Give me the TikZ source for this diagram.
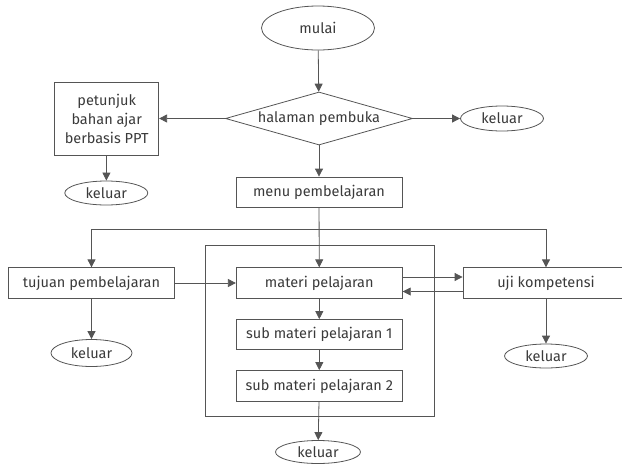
\documentclass[tikz,border=0pt]{standalone}
\usepackage{fontspec}
\setmainfont{Fira Sans}
\usetikzlibrary{shapes.geometric,arrows.meta}
\definecolor{linegray}{HTML}{555555}
\definecolor{textgray}{HTML}{3A3A3A}
\begin{document}
\begin{tikzpicture}[x=1pt, y=-1pt, line width=0.8pt,
  every node/.style={font=\fontsize{14.5}{19}\selectfont, text=textgray},
  box/.style={draw=linegray, inner sep=0pt, minimum width=166pt, minimum height=30pt},
  term/.style={draw=linegray, ellipse, inner sep=0pt, minimum width=83pt, minimum height=25pt},
  flow/.style={draw=linegray, -{Triangle[length=8pt, width=8pt]}}]
  \useasboundingbox (0,0) rectangle (622,464);
  \node[term, minimum width=113pt, minimum height=44pt] (start) at (318,28) {mulai};
  \node[draw=linegray, diamond, aspect=3.5, inner sep=0pt, minimum width=187pt, minimum height=53pt] (open) at (319,118.5) {halaman pembuka};
  \node[box, minimum width=104pt, minimum height=73pt, align=center] (guide) at (106.7,118.5) {petunjuk\\bahan ajar\\berbasis PPT};
  \node[term] (exitA) at (502,118.5) {keluar};
  \node[term, minimum height=24pt] (exitB) at (106.3,193) {keluar};
  \node[box] (menu) at (319,192) {menu pembelajaran};
  \coordinate (split) at (319,229);
  \draw[linegray] (205,245) rectangle (434,416);
  \node[box, minimum height=30.5pt] (goal) at (91.5,283) {tujuan pembelajaran};
  \node[box, minimum height=30.5pt] (topic) at (319.3,283) {materi pelajaran};
  \node[box, minimum height=30.5pt] (test) at (546,283) {uji kompetensi};
  \node[box] (sub1) at (319.3,334.5) {sub materi pelajaran 1};
  \node[box, minimum height=31pt] (sub2) at (319.3,386) {sub materi pelajaran 2};
  \node[term, minimum width=81pt, minimum height=27pt] (exitC) at (91.5,353) {keluar};
  \node[term, minimum height=24pt] (exitD) at (546,356) {keluar};
  \node[term, minimum width=85pt, minimum height=23pt] (exitE) at (318,452) {keluar};
  \draw[flow] (start) -- (open);
  \draw[flow] (open) -- (guide);
  \draw[flow] (open) -- (exitA);
  \draw[flow] (guide) -- (exitB);
  \draw[flow] (open) -- (menu);
  \draw[flow] (menu) -- (topic);
  \draw[flow] (split) -| (goal);
  \draw[flow] (split) -| (test);
  \draw[flow] (goal) -- (topic);
  \draw[flow] ([yshift=6pt]topic.east) -- ([yshift=6pt]test.west);
  \draw[flow] ([yshift=-8.5pt]test.west) -- ([yshift=-8.5pt]topic.east);
  \draw[flow] (topic) -- (sub1);
  \draw[flow] (sub1) -- (sub2);
  \draw[flow] (goal) -- (exitC);
  \draw[flow] (test) -- (exitD);
  \draw[flow] (sub2) -- (exitE);
\end{tikzpicture}
\end{document}
